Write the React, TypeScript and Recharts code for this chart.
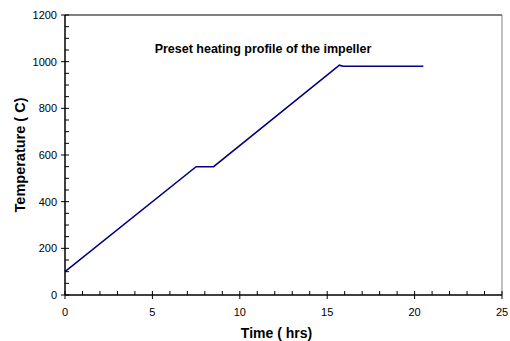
import { LineChart, Line, XAxis, YAxis, ReferenceLine, Label } from "recharts";

// Heating profile
const timeHrs = [0, 7.5, 8.5, 15.7, 15.9, 20.5];
const tempC = [100, 550, 550, 985, 980, 980];

const xTicks = Array.from({ length: 26 }, (_, i) => i); // every 1 hr, labels every 5
const yTicks = Array.from({ length: 25 }, (_, i) => i * 50); // every 50, labels every 200

const data = timeHrs.map((t, i) => ({ time: t, temp: tempC[i] }));

const FONT = "'Liberation Sans', Arial, sans-serif";

const XTick = (props: any) => {
  const { x, y, payload } = props;
  const major = payload.value % 5 === 0;
  return (
    <g>
      <line x1={x} x2={x} y1={y - 4} y2={major ? y + 4 : y} stroke="#000" />
      {major && (
        <text x={x} y={y + 21} textAnchor="middle" fontSize={11} fontFamily={FONT} fill="#000">
          {payload.value}
        </text>
      )}
    </g>
  );
};

const YTick = (props: any) => {
  const { x, y, payload } = props;
  const major = payload.value % 200 === 0;
  return (
    <g>
      <line x1={major ? x - 4 : x} x2={x + 4} y1={y} y2={y} stroke="#000" />
      {major && (
        <text x={x - 8} y={y + 4} textAnchor="end" fontSize={11} fontFamily={FONT} fill="#000">
          {payload.value}
        </text>
      )}
    </g>
  );
};

export default function App() {
  return (
    <div style={{ position: "relative", width: 510, height: 341, background: "#fff" }}>
      <style>{`body{margin:0}`}</style>
      <LineChart
        width={510}
        height={341}
        data={data}
        margin={{ top: 15, right: 8, bottom: 0, left: 0 }}
      >
        <XAxis
          dataKey="time"
          type="number"
          domain={[0, 25]}
          ticks={xTicks}
          interval={0}
          tickSize={0}
          tickMargin={0}
          tickLine={false}
          tick={<XTick />}
          height={46}
          stroke="#000"
          strokeWidth={1.5}
        >
          <Label
            value="Time ( hrs)"
            position="insideBottom"
            offset={3}
            dx={-7}
            style={{ fontFamily: FONT, fontSize: 14, fontWeight: "bold", fill: "#000" }}
          />
        </XAxis>
        <YAxis
          type="number"
          domain={[0, 1200]}
          ticks={yTicks}
          interval={0}
          tickSize={0}
          tickMargin={0}
          tickLine={false}
          tick={<YTick />}
          width={65}
          stroke="#000"
          strokeWidth={1.5}
        >
          <Label
            value="Temperature ( C)"
            angle={-90}
            position="insideLeft"
            offset={20}
            style={{ fontFamily: FONT, fontSize: 14.5, fontWeight: "bold", fill: "#000", textAnchor: "middle" }}
          />
        </YAxis>
        <ReferenceLine y={1200} stroke="#000" strokeWidth={1} />
        <ReferenceLine x={25} stroke="#808080" strokeWidth={1} />
        <Line
          type="linear"
          dataKey="temp"
          stroke="#000080"
          strokeWidth={1.5}
          dot={false}
          isAnimationActive={false}
        />
      </LineChart>
      <div
        style={{
          position: "absolute",
          left: 0,
          width: 526,
          top: 42,
          textAlign: "center",
          fontFamily: FONT,
          fontSize: 12.5,
          fontWeight: "bold",
          color: "#000",
          whiteSpace: "nowrap",
        }}
      >
        Preset heating profile of the impeller
      </div>
    </div>
  );
}
